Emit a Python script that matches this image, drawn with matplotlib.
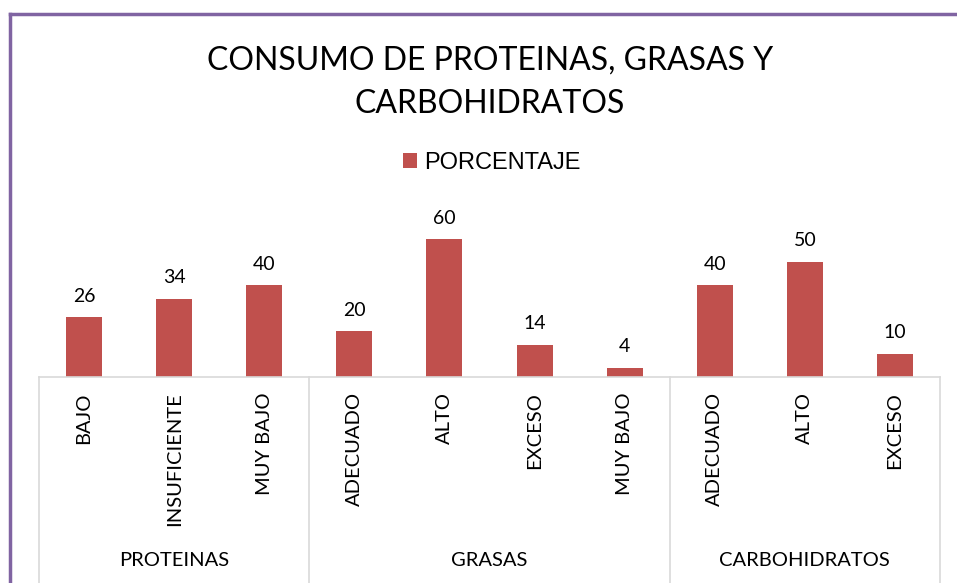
import matplotlib.pyplot as plt
from matplotlib.lines import Line2D

categories = ['BAJO', 'INSUFICIENTE', 'MUY BAJO',
              'ADECUADO', 'ALTO', 'EXCESO', 'MUY BAJO',
              'ADECUADO', 'ALTO', 'EXCESO']
groups = ['PROTEINAS', 'GRASAS', 'CARBOHIDRATOS']
group_sizes = [3, 4, 3]
porcentaje = [26, 34, 40, 20, 60, 14, 4, 40, 50, 10]

plt.rcParams['font.family'] = ['Lato', 'DejaVu Sans']

fig = plt.figure(figsize=(9.57, 5.83), dpi=100)
ax = fig.add_axes([39 / 957, 206 / 583, 901 / 957, 161 / 583])

x = list(range(len(categories)))
bars = ax.bar(x, porcentaje, width=0.4, color='#C0504D', label='PORCENTAJE')
ax.set_xlim(-0.5, len(categories) - 0.5)
ax.set_ylim(0, 70)

for s in ['top', 'right', 'left']:
    ax.spines[s].set_visible(False)
ax.spines['bottom'].set_color('#D9D9D9')
ax.spines['bottom'].set_linewidth(1.2)
ax.set_xticks([])
ax.set_yticks([])

# value labels
for xi, v in zip(x, porcentaje):
    ax.annotate(str(v), (xi, v), xytext=(0, 9), textcoords='offset points',
                ha='center', va='bottom', fontsize=14)

# category labels
trans = ax.get_xaxis_transform()
for xi, c in zip(x, categories):
    ax.text(xi, -15 / 161, c, rotation=90, ha='center', va='top',
            fontsize=14.5, transform=trans)

# group separators and labels
edges = [-0.5]
for n in group_sizes:
    edges.append(edges[-1] + n)
for e in edges:
    ax.plot([e, e], [0, -1.4], transform=trans, color='#D9D9D9',
            lw=1.2, clip_on=False)
for g, a, b in zip(groups, edges[:-1], edges[1:]):
    ax.text((a + b) / 2, -183 / 161, g, ha='center', va='center',
            fontsize=14.5, transform=trans)

fig.text(490 / 957, 1 - 82 / 583, 'CONSUMO DE PROTEINAS, GRASAS Y\nCARBOHIDRATOS',
         ha='center', va='center', fontsize=23, linespacing=1.55)

fig.legend(handles=[bars], labels=['PORCENTAJE'], loc='center',
           bbox_to_anchor=(492 / 957, 1 - 163 / 583), frameon=False,
           handlelength=0.6, handleheight=0.6, handletextpad=0.3,
           prop={'family': 'Liberation Sans', 'size': 17})

# purple border
fig.add_artist(Line2D([9.5 / 957, 1], [1 - 14 / 583, 1 - 14 / 583],
                      transform=fig.transFigure, color='#8064A2', lw=2.5))
fig.add_artist(Line2D([9.5 / 957, 9.5 / 957], [0, 1 - 14 / 583],
                      transform=fig.transFigure, color='#8064A2', lw=2.5))

fig.savefig('out.png', dpi=100)
